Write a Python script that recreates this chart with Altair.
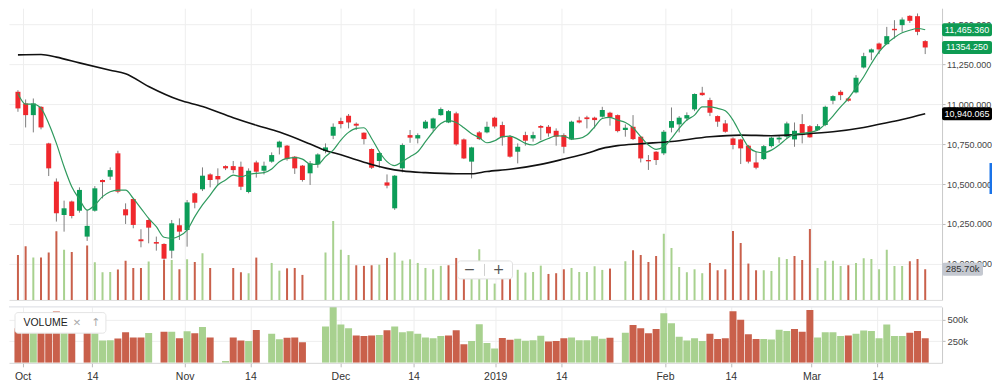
import json
import altair as alt
import pandas as pd

# ---------------- data ----------------
opens = [11077, 11004, 10931, 10983, 10754, 10515, 10306, 10390, 10333, 10171,
         10333, 10525, 10546, 10692, 10342, 10406, 10154, 10275, 10137, 10125,
         10083, 10242, 10212, 10442, 10467, 10560, 10550, 10612, 10612, 10608,
         10450, 10635, 10583, 10640, 10729, 10740, 10671, 10615, 10567, 10623,
         10706, 10802, 10894, 10927, 10877, 10821, 10719, 10644, 10510, 10348,
         10598, 10806, 10785, 10848, 10848, 10931, 10885, 10942, 10779, 10640,
         10823, 10823, 10915, 10869, 10796, 10702, 10806, 10785, 10863, 10858,
         10833, 10806, 10779, 10898, 10917, 10915, 10921, 10946, 10931, 10838,
         10858, 10796, 10650, 10702, 10692, 10852, 10873, 10910, 10967, 11071,
         11025, 10925, 10879, 10785, 10779, 10740, 10635, 10656, 10737, 10779,
         10796, 10779, 10875, 10862, 10837, 10869, 11021, 11077, 11035, 11073,
         11229, 11323, 11379, 11375, 11471, 11494, 11552, 11550, 11394]
highs = [11087, 11029, 11035, 10987, 10758, 10535, 10396, 10396, 10479, 10338,
         10487, 10529, 10604, 10708, 10379, 10410, 10217, 10279, 10171, 10129,
         10275, 10285, 10400, 10448, 10604, 10567, 10598, 10617, 10644, 10640,
         10598, 10646, 10640, 10698, 10771, 10744, 10675, 10619, 10644, 10692,
         10754, 10879, 10915, 10938, 10885, 10823, 10723, 10702, 10560, 10556,
         10754, 10838, 10817, 10900, 10915, 10979, 10963, 10952, 10785, 10733,
         10831, 10890, 10921, 10890, 10806, 10754, 10827, 10827, 10869, 10869,
         10848, 10817, 10896, 10921, 10927, 10921, 10983, 10952, 10935, 10873,
         10931, 10800, 10681, 10706, 10838, 10979, 10925, 10948, 11067, 11108,
         11040, 10929, 10900, 10792, 10783, 10744, 10702, 10744, 10796, 10800,
         10890, 10885, 10937, 10869, 10875, 10990, 11056, 11087, 11042, 11181,
         11321, 11348, 11385, 11483, 11525, 11542, 11556, 11567, 11400]
lows = [10952, 10854, 10823, 10842, 10550, 10265, 10202, 10285, 10321, 10144,
        10327, 10410, 10525, 10442, 10250, 10223, 10104, 10129, 10083, 10025,
        10035, 10150, 10108, 10348, 10456, 10479, 10494, 10587, 10567, 10462,
        10442, 10540, 10560, 10633, 10685, 10646, 10563, 10515, 10494, 10602,
        10692, 10781, 10848, 10848, 10838, 10748, 10594, 10602, 10473, 10338,
        10573, 10758, 10754, 10844, 10831, 10927, 10881, 10740, 10656, 10535,
        10775, 10817, 10848, 10740, 10665, 10629, 10740, 10765, 10775, 10796,
        10740, 10692, 10775, 10879, 10848, 10848, 10915, 10865, 10823, 10796,
        10775, 10635, 10588, 10619, 10681, 10823, 10823, 10894, 10956, 11052,
        10925, 10858, 10821, 10717, 10625, 10629, 10592, 10650, 10729, 10758,
        10785, 10733, 10754, 10790, 10833, 10862, 10999, 11025, 11015, 11067,
        11223, 11275, 11313, 11371, 11410, 11452, 11508, 11431, 11313]
closes = [10973, 10931, 11004, 10854, 10598, 10317, 10348, 10300, 10463, 10238,
          10473, 10512, 10587, 10452, 10304, 10244, 10142, 10227, 10127, 10033,
          10254, 10202, 10385, 10383, 10552, 10525, 10529, 10598, 10587, 10483,
          10583, 10577, 10615, 10681, 10765, 10656, 10598, 10525, 10629, 10685,
          10729, 10858, 10875, 10885, 10865, 10781, 10602, 10694, 10490, 10552,
          10744, 10790, 10806, 10890, 10910, 10969, 10956, 10748, 10660, 10729,
          10781, 10858, 10860, 10792, 10671, 10733, 10771, 10806, 10852, 10817,
          10796, 10733, 10890, 10885, 10906, 10900, 10963, 10917, 10831, 10852,
          10781, 10660, 10642, 10650, 10827, 10894, 10915, 10931, 11063, 11056,
          10946, 10890, 10827, 10744, 10723, 10640, 10602, 10737, 10790, 10790,
          10879, 10833, 10806, 10792, 10862, 10983, 11050, 11056, 11021, 11165,
          11300, 11342, 11342, 11425, 11462, 11529, 11521, 11452, 11354.25]

# volume in thousands (None = no bar drawn)
volumes_k = [402, 473, 381, 381, 422, 596, 446, 427, None, 479,
             343, 261, 263, 283, 356, 296, 296, 348, None, 362,
             362, 285, 367, 345, 416, 296, None, 20, 296, 261,
             253, 381, None, 337, 274, 293, 296, 239, None, None,
             422, 681, 446, 402, 318, 313, 318, 323, 378, 422,
             356, 367, 337, 296, 285, 313, 318, 378, 215, 254,
             449, 230, 168, 289, 269, 281, 258, 263, 315, 247,
             253, 285, 296, 263, 263, 310, 280, 291, None, 351,
             441, 402, 345, 394, 577, 460, 304, 261, 285, 253,
             337, 277, 285, 599, 501, 332, 277, 277, 272, 384,
             370, 394, 362, 615, 296, 356, 356, 313, 318, 337,
             375, 370, 285, 446, 313, 313, 351, 370, 285.7]
vol_dir = list("ddudddudud" "uuudddduud" "udududuudd" "uduuuddduu"
               "uuuudddudu" "uuuuuudddu" "uuudduuuud" "dduuuuuduu"
               "dddduuuuuu" "ddddddduuu" "uddduuuudu" "uuuuuuddd")

# short moving average (green line), one value per session
ma_fast = [11067, 11000, 11000, 10973, 10879, 10754, 10608, 10483, 10404, 10337,
           10369, 10421, 10452, 10462, 10462, 10410, 10348, 10285, 10233, 10167,
           10160, 10175, 10212, 10296, 10369, 10431, 10494, 10525, 10556, 10546,
           10560, 10567, 10571, 10594, 10640, 10660, 10665, 10656, 10625, 10623,
           10671, 10712, 10775, 10823, 10848, 10852, 10785, 10702, 10640, 10615,
           10640, 10671, 10702, 10765, 10827, 10879, 10896, 10885, 10852, 10815,
           10790, 10758, 10771, 10796, 10800, 10781, 10754, 10744, 10765, 10785,
           10802, 10800, 10781, 10785, 10806, 10858, 10910, 10917, 10900, 10885,
           10852, 10796, 10744, 10717, 10733, 10785, 10848, 10900, 10931, 10983,
           10983, 10973, 10958, 10900, 10812, 10733, 10702, 10696, 10712, 10744,
           10785, 10812, 10817, 10823, 10837, 10875, 10925, 10983, 11035, 11102,
           11171, 11254, 11327, 11379, 11417, 11446, 11462, 11473, 11465.36]

# long moving average (black line), read at these sessions
ma_slow_idx = [0, 3, 5, 8, 12, 14, 17, 21, 24, 28, 31, 34, 38, 40, 42, 44, 46, 48, 50,
               53, 57, 59, 61, 64, 68, 71, 74, 76, 78, 81, 85, 90, 94, 98, 102, 106,
               110, 113, 115, 118]
ma_slow_val = [11308, 11310, 11294, 11258, 11212, 11190, 11110, 11025, 10985, 10915,
               10868, 10825, 10750, 10710, 10683, 10652, 10622, 10598, 10582, 10571,
               10564, 10564, 10578, 10592, 10623, 10656, 10692, 10723, 10740, 10752,
               10766, 10796, 10806, 10802, 10812, 10827, 10854, 10883, 10904, 10940.065]

tick_pos = [0.60, 9.68, 21.68, 30.24, 41.94, 51.45, 62.08, 70.66, 84.15, 92.71, 103.21, 111.79]
tick_labels = ["Oct", "14", "Nov", "14", "Dec", "14", "2019", "14", "Feb", "14", "Mar", "14"]
price_ticks = [10000, 10250, 10500, 10750, 11000, 11250, 11500]
vol_ticks = [250, 500]

marker_values = [11465.36, 11354.25, 10940.065]
marker_texts = ["11,465.360", "11354.250", "10,940.065"]
marker_kind = ["fast", "last", "slow"]
last_volume_k = 285.7
last_volume_text = "285.70k"

# ---------------- layout / style ----------------
W = 934
H_MAIN = 292
H_VOL = 56
X_DOMAIN = [-0.514, 119.54]
PRICE_DOMAIN = [9775, 11600]
OVERLAY_DOMAIN = [34.4, 2424]
VOL_DOMAIN = [0, 651]
BOX_W = 50

UP = "#0c9d58"
DN = "#f0282d"
WICK = "#7d7d7d"
VUP = "#a8d18f"
VDN = "#c9604b"
FAST = "#2f9a5e"
SLOW = "#111111"
BOX_GREEN = "#0e9b53"
GRID = "#eeeeee"
AXIS = "#c9c9c9"
FONT = "Liberation Sans"

n = len(opens)
candles = pd.DataFrame({"i": list(range(n)), "o": opens, "h": highs, "l": lows, "c": closes})
vol_df = pd.DataFrame([{"i": i, "v": v, "d": d}
                       for i, (v, d) in enumerate(zip(volumes_k, vol_dir)) if v is not None])
fast_df = pd.DataFrame({"i": list(range(n)), "v": ma_fast})
slow_df = pd.DataFrame({"i": ma_slow_idx, "v": ma_slow_val})
mark_df = pd.DataFrame({"v": marker_values, "t": marker_texts, "k": marker_kind})
lastvol_df = pd.DataFrame({"v": [last_volume_k], "t": [last_volume_text]})
one = pd.DataFrame({"a": [0]})

xs = alt.Scale(domain=X_DOMAIN, nice=False, zero=False)
ps = alt.Scale(domain=PRICE_DOMAIN, nice=False, zero=False)
os_ = alt.Scale(domain=OVERLAY_DOMAIN, nice=False, zero=False)
vs = alt.Scale(domain=VOL_DOMAIN, nice=False)

main_x_axis = alt.Axis(values=tick_pos, labels=False, ticks=False, domain=True,
                       domainColor="#dddddd", grid=True, gridColor=GRID, title=None)

label_expr = ("[" + ",".join(json.dumps(t) for t in tick_labels) + "][indexof(["
              + ",".join(repr(p) for p in tick_pos) + "], datum.value)]")
vol_x_axis = alt.Axis(values=tick_pos, labelExpr=label_expr, ticks=True, tickSize=4,
                      tickColor="#bbbbbb", domain=True, domainColor="#d6d6d6",
                      grid=True, gridColor=GRID, labelFontSize=10.5, labelColor="#333333",
                      labelPadding=5, title=None)

price_axis = alt.Axis(orient="right", values=price_ticks, format=",.3f", tickSize=3,
                      tickColor="#bbbbbb", domainColor=AXIS, grid=True, gridColor=GRID,
                      labelFontSize=9, labelColor="#444444", labelPadding=1.5, title=None)

vol_axis = alt.Axis(orient="right", values=vol_ticks, labelExpr="datum.value + 'k'",
                    tickSize=3, tickColor="#bbbbbb", domainColor=AXIS, grid=True,
                    gridColor=GRID, labelFontSize=9.5, labelColor="#444444",
                    labelPadding=2, title=None)

vol_color = alt.Color("d:N", scale=alt.Scale(domain=["u", "d"], range=[VUP, VDN]), legend=None)

# ---- main panel ----
overlay = alt.Chart(vol_df).mark_bar(size=2, clip=True).encode(
    x=alt.X("i:Q", scale=xs, axis=main_x_axis),
    y=alt.Y("v:Q", scale=os_, axis=None),
    y2=alt.value(H_MAIN),
    color=vol_color,
)

wicks = alt.Chart(candles).mark_rule(color=WICK, strokeWidth=1).encode(
    x=alt.X("i:Q", scale=xs, axis=main_x_axis),
    y=alt.Y("l:Q", scale=ps, axis=None),
    y2="h:Q",
)

bodies = alt.Chart(candles).mark_bar(size=5).encode(
    x=alt.X("i:Q", scale=xs, axis=main_x_axis),
    y=alt.Y("o:Q", scale=ps, axis=price_axis),
    y2="c:Q",
    color=alt.condition("datum.c >= datum.o", alt.value(UP), alt.value(DN)),
)

slow_line = alt.Chart(slow_df).mark_line(color=SLOW, strokeWidth=1.6, interpolate="monotone").encode(
    x=alt.X("i:Q", scale=xs, axis=main_x_axis),
    y=alt.Y("v:Q", scale=ps, axis=None),
)

fast_line = alt.Chart(fast_df).mark_line(color=FAST, strokeWidth=1.2, interpolate="monotone").encode(
    x=alt.X("i:Q", scale=xs, axis=main_x_axis),
    y=alt.Y("v:Q", scale=ps, axis=None),
)

mark_boxes = alt.Chart(mark_df).mark_rect(yOffset=-6.5, y2Offset=6.5, cornerRadius=2).encode(
    x=alt.value(W), x2=alt.value(W + BOX_W),
    y=alt.Y("v:Q", scale=ps, axis=None), y2="v:Q",
    color=alt.condition("datum.k == 'slow'", alt.value("#000000"), alt.value(BOX_GREEN)),
)
mark_text = alt.Chart(mark_df).mark_text(color="white", fontSize=9, align="center",
                                         baseline="middle", font=FONT).encode(
    x=alt.value(W + BOX_W / 2),
    y=alt.Y("v:Q", scale=ps, axis=None),
    text="t:N",
)

lastvol_box = alt.Chart(lastvol_df).mark_rect(yOffset=-6.5, y2Offset=6.5, cornerRadius=2,
                                              color="#c4c8d0").encode(
    x=alt.value(W), x2=alt.value(W + 41),
    y=alt.Y("v:Q", scale=os_, axis=None), y2="v:Q",
)
lastvol_text = alt.Chart(lastvol_df).mark_text(color="#333333", fontSize=9.5, align="center",
                                               baseline="middle", font=FONT).encode(
    x=alt.value(W + 20.5),
    y=alt.Y("v:Q", scale=os_, axis=None),
    text="t:N",
)

zoom_box = alt.Chart(one).mark_rect(fill="white", stroke="#e0e0e0", strokeWidth=1,
                                    cornerRadius=3).encode(
    x=alt.value(449), x2=alt.value(504), y=alt.value(253), y2=alt.value(271))
zoom_minus = alt.Chart(one).mark_text(text="\u2212", fontSize=14, color="#555555",
                                      font="DejaVu Sans", baseline="middle").encode(
    x=alt.value(461), y=alt.value(262))
zoom_plus = alt.Chart(one).mark_text(text="+", fontSize=14, color="#555555",
                                     font="DejaVu Sans", baseline="middle").encode(
    x=alt.value(490), y=alt.value(262))
zoom_sep = alt.Chart(one).mark_rule(color="#d0d0d0").encode(
    x=alt.value(476), y=alt.value(256), y2=alt.value(268))

side_bar = alt.Chart(one).mark_rect(color="#1a73e8").encode(
    x=alt.value(981.5), x2=alt.value(984), y=alt.value(155), y2=alt.value(186))

main = alt.layer(
    overlay, wicks, bodies, slow_line, fast_line,
    mark_boxes, mark_text, lastvol_box, lastvol_text,
    zoom_box, zoom_minus, zoom_plus, zoom_sep, side_bar,
).resolve_scale(y="independent").properties(width=W, height=H_MAIN)

# ---- volume panel ----
vol_bars = alt.Chart(vol_df).mark_bar(size=7, clip=True).encode(
    x=alt.X("i:Q", scale=xs, axis=vol_x_axis),
    y=alt.Y("v:Q", scale=vs, axis=vol_axis),
    color=vol_color,
)
top_border = alt.Chart(one).mark_rule(color="#d9dce1").encode(
    x=alt.value(0), x2=alt.value(W), y=alt.value(0))
legend_box = alt.Chart(one).mark_rect(fill="white", stroke="#e4e4e4", strokeWidth=1,
                                      cornerRadius=3).encode(
    x=alt.value(6), x2=alt.value(97), y=alt.value(5.7), y2=alt.value(26.3))
legend_label = alt.Chart(one).mark_text(text="VOLUME", fontSize=10.5, color="#222222",
                                        align="left", baseline="middle", font=FONT).encode(
    x=alt.value(14.5), y=alt.value(16))
legend_x = alt.Chart(one).mark_text(text="\u2715", fontSize=10, color="#aaaaaa",
                                    align="center", baseline="middle", font="DejaVu Sans").encode(
    x=alt.value(68), y=alt.value(16))
legend_up = alt.Chart(one).mark_text(text="\u2191", fontSize=11, color="#aaaaaa",
                                     align="center", baseline="middle", font="DejaVu Sans").encode(
    x=alt.value(87), y=alt.value(16))

lower = alt.layer(vol_bars, top_border, legend_box, legend_label, legend_x, legend_up
                  ).properties(width=W, height=H_VOL)

chart = alt.vconcat(main, lower, spacing=6).properties(
    padding={"left": 0, "top": 0, "right": 0, "bottom": 0}, background="white"
).configure(font=FONT, view=alt.ViewConfig(stroke=None))

chart.save("out.html", embed_options={"renderer": "svg", "actions": False})
